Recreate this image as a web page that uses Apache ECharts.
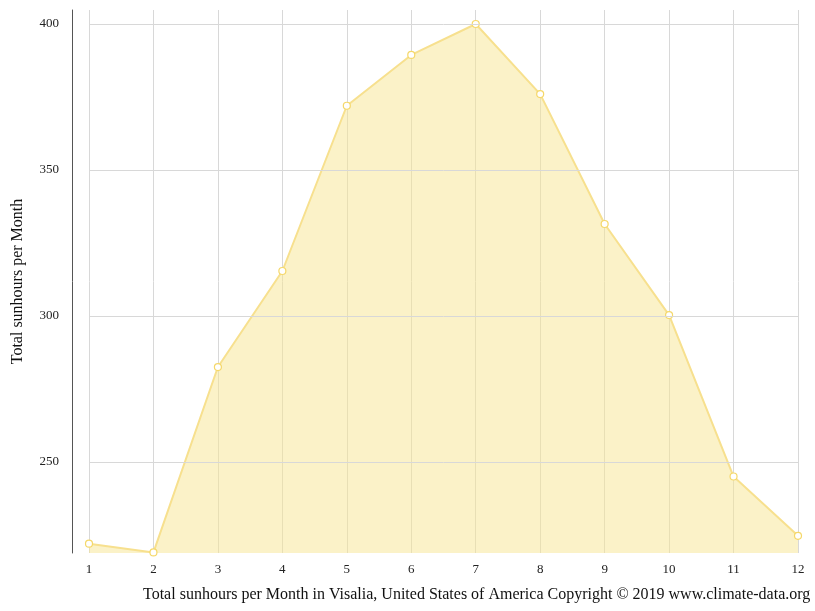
<!DOCTYPE html>
<html>
<head>
<meta charset="utf-8">
<script src="https://cdn.jsdelivr.net/npm/echarts@6/dist/echarts.min.js"></script>
<style>html,body{margin:0;padding:0;background:#fff}#main{width:815px;height:611px}</style>
</head>
<body>
<div id="main"></div>
<script>
var months = ['1', '2', '3', '4', '5', '6', '7', '8', '9', '10', '11', '12'];
var sunhours = [222, 219, 282.5, 315.4, 372, 389.4, 400, 376, 331.5, 300.3, 245, 224.7];
var yTicks = [250, 300, 350, 400];

var myChart = echarts.init(document.getElementById('main'));

var option = {
    animation: false,
    textStyle: { fontFamily: 'Liberation Serif' },
    grid: { left: 89, right: 17, top: 10, bottom: 58 },
    title: {
        text: 'Total sunhours per Month in Visalia, United States of America Copyright © 2019 www.climate-data.org',
        left: 138,
        top: 582,
        textStyle: { fontFamily: 'Liberation Serif', fontSize: 16, fontWeight: 'normal', color: '#111' }
    },
    xAxis: {
        type: 'category',
        boundaryGap: false,
        data: months,
        axisLine: { show: false },
        axisTick: { show: false },
        axisLabel: { color: '#222', fontSize: 13, margin: 10 },
        splitLine: { show: true, lineStyle: { color: '#d8d8d8' } }
    },
    yAxis: {
        type: 'value',
        min: 218.8,
        max: 404.8,
        offset: 17,
        name: 'Total sunhours per Month',
        nameLocation: 'middle',
        nameGap: 46,
        nameTextStyle: { fontFamily: 'Liberation Serif', fontSize: 16, color: '#111' },
        axisLine: { show: true, lineStyle: { color: '#555' } },
        axisTick: { show: false },
        axisLabel: { show: false },
        splitLine: { show: false }
    },
    series: [{
        type: 'line',
        data: sunhours,
        symbol: 'circle',
        symbolSize: 7,
        itemStyle: { color: '#fff', borderColor: '#f5d86a', borderWidth: 1.2 },
        lineStyle: { color: '#f7e08e', width: 2 },
        areaStyle: { color: 'rgba(248,230,150,0.75)' },
        markLine: {
            silent: true,
            symbol: 'none',
            lineStyle: { color: '#d8d8d8', type: 'solid', width: 1 },
            label: { position: 'start', color: '#222', fontSize: 13, distance: 30, formatter: '{c}' },
            data: yTicks.map(function (v) { return { yAxis: v }; })
        }
    }]
};

myChart.setOption(option);
</script>
</body>
</html>
